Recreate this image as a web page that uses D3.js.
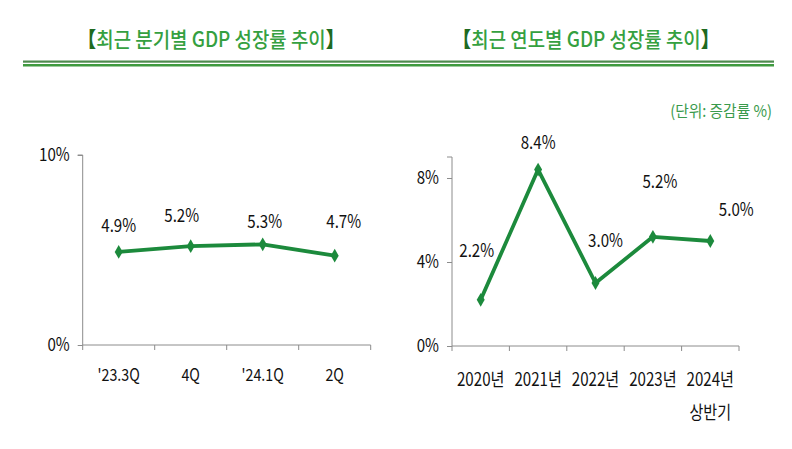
<!DOCTYPE html>
<html><head><meta charset="utf-8">
<script src="https://cdn.jsdelivr.net/npm/d3@7"></script>
<style>
body{margin:0;background:#fff;}
svg{display:block;}
text{font-family:"Noto Sans CJK KR","Noto Sans",sans-serif;}
</style></head><body>
<svg id="c" width="792" height="449"></svg>
<script>
// Data
const quarterCats = ["'23.3Q", "4Q", "'24.1Q", "2Q"];
const quarterVals = [4.9, 5.2, 5.3, 4.7];
const quarterTicks = [0, 10];
const yearCats = ["2020년", "2021년", "2022년", "2023년", "2024년"];
const yearSub = ["", "", "", "", "상반기"];
const yearVals = [2.2, 8.4, 3.0, 5.2, 5.0];
const yearTicks = [0, 4, 8];
const titleLeft = "최근 분기별 GDP 성장률 추이";
const titleRight = "최근 연도별 GDP 성장률 추이";
const unitLabel = "(단위: 증감률 %)";

// Layout (label offsets)
const qOff = [[0,-20],[-9,-24.5],[2,-16],[9,-28]];
const yOff = [[-4,-43],[0,-21],[10,-36],[7,-49],[26,-25]];

const svg = d3.select("#c");
const lineColor = "#1c8a3c";
const axisColor = "#8c8c8c";
const SX = 0.84;

function ntext(sel, x, y, txt, size, anchor, fill){
  return sel.append("text").attr("transform",`translate(${x},${y}) scale(${SX},1)`)
    .attr("text-anchor",anchor||"middle").attr("fill",fill||"#111")
    .style("font-size",size).text(txt);
}

// Titles
function title(cx, txt){
  const t = svg.append("text").attr("transform",`translate(${cx},47) scale(0.9,1)`).attr("text-anchor","middle")
    .style("font-size","21px").style("font-weight","500");
  t.append("tspan").attr("fill","#1f6a1f").style("font-weight","900").text("【");
  t.append("tspan").attr("fill","#35a040").text(txt);
  t.append("tspan").attr("fill","#1f6a1f").style("font-weight","900").text("】");
}
title(211, titleLeft);
title(586, titleRight);

// double rule
svg.append("rect").attr("x",23).attr("y",60.5).attr("width",751).attr("height",2.2).attr("fill","#4e8a4e");
svg.append("rect").attr("x",23).attr("y",64).attr("width",751).attr("height",2.5).attr("fill","#3f9a3f");

svg.append("text").attr("transform","translate(772,117) scale(0.92,1)").attr("text-anchor","end")
  .attr("fill","#3a9a4c").style("font-size","16px").text(unitLabel);

function chart(cfg){
  const x = d3.scaleBand().domain(cfg.cats).range(cfg.xr);
  const y = d3.scaleLinear().domain(cfg.yd).range(cfg.yr);
  const g = svg.append("g");
  // y axis
  const ya = d3.axisLeft(y).tickValues(cfg.ticks).tickSize(5).tickFormat("");
  const gy = g.append("g").attr("transform",`translate(${cfg.xr[0]},0)`).call(ya);
  gy.select(".domain").attr("stroke",axisColor).attr("d",`M-5,${cfg.yr[1]}H0V${cfg.yr[0]}`);
  gy.selectAll(".tick line").attr("stroke",axisColor);
  cfg.ticks.forEach(t=>ntext(g, cfg.xr[0]-13, y(t)+6, t+"%", "18px", "end"));
  // x axis
  const gx = g.append("g");
  gx.append("line").attr("x1",cfg.xr[0]).attr("x2",cfg.xr[1]).attr("y1",cfg.yr[0]).attr("y2",cfg.yr[0]).attr("stroke",axisColor);
  const edges = cfg.cats.map(c=>x(c)).concat([cfg.xr[1]]);
  gx.selectAll("line.t").data(edges).join("line").attr("class","t")
    .attr("x1",d=>d).attr("x2",d=>d).attr("y1",cfg.yr[0]).attr("y2",cfg.yr[0]+5).attr("stroke",axisColor);
  cfg.cats.forEach(c=>ntext(gx, x(c)+x.bandwidth()/2, cfg.xlY, c, cfg.xlSize));
  if(cfg.sub){
    cfg.cats.forEach((c,i)=>{ if(cfg.sub[i]) ntext(gx, x(c)+x.bandwidth()/2, cfg.xlY+33, cfg.sub[i], cfg.xlSize); });
  }
  const pts = cfg.cats.map((c,i)=>[x(c)+x.bandwidth()/2, y(cfg.vals[i])]);
  g.append("path").attr("d",d3.line()(pts)).attr("fill","none").attr("stroke",lineColor)
    .attr("stroke-width",3.8).attr("stroke-linejoin","round");
  g.selectAll("path.m").data(pts).join("path").attr("class","m")
    .attr("transform",d=>`translate(${d[0]},${d[1]})`)
    .attr("d",d3.symbol(d3.symbolDiamond,55)()).attr("fill",lineColor);
  cfg.vals.forEach((v,i)=>ntext(g, pts[i][0]+cfg.off[i][0], pts[i][1]+cfg.off[i][1], v.toFixed(1)+"%", "18px"));
}

chart({cats:quarterCats, vals:quarterVals, ticks:quarterTicks, yd:[0,10], yr:[345,155],
  xr:[82.7,370.7], off:qOff, xlY:381, xlSize:"17px"});
chart({cats:yearCats, vals:yearVals, ticks:yearTicks, yd:[0,9], yr:[346,157],
  xr:[452,739], off:yOff, xlY:386, xlSize:"18px", sub:yearSub});
</script></body></html>
